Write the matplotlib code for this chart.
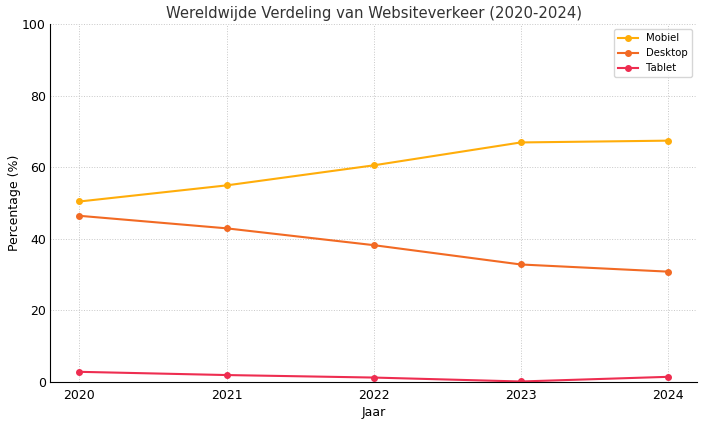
import matplotlib.pyplot as plt

jaren = [2020, 2021, 2022, 2023, 2024]
mobiel = [50.4, 54.9, 60.5, 66.9, 67.4]
desktop = [46.4, 42.9, 38.2, 32.8, 30.8]
tablet = [2.8, 1.9, 1.2, 0.1, 1.4]

fig, ax = plt.subplots(figsize=(7.05, 4.21), dpi=100)

ax.plot(jaren, mobiel, marker='o', markersize=4, linewidth=1.5, color='#FFAD0A', label='Mobiel')
ax.plot(jaren, desktop, marker='o', markersize=4, linewidth=1.5, color='#F26A24', label='Desktop')
ax.plot(jaren, tablet, marker='o', markersize=4, linewidth=1.5, color='#EE2D50', label='Tablet')

ax.set_ylim(0, 100)
ax.set_xticks(jaren)
ax.set_title('Wereldwijde Verdeling van Websiteverkeer (2020-2024)', fontsize=10.7,
             color='#333333', pad=4.5)
ax.set_xlabel('Jaar', fontsize=9, labelpad=3)
ax.set_ylabel('Percentage (%)', fontsize=9, labelpad=1)
ax.tick_params(labelsize=9, length=0)
ax.tick_params(axis='x', pad=5)
ax.tick_params(axis='y', pad=3)
ax.grid(True, linestyle=':', linewidth=0.7, color='#c8c8c8')
ax.spines['top'].set_visible(False)
ax.spines['right'].set_visible(False)
ax.legend(fontsize=7.3, loc='upper right')

fig.subplots_adjust(left=0.071, right=0.989, top=0.943, bottom=0.093)
fig.savefig('out.png', dpi=100)
